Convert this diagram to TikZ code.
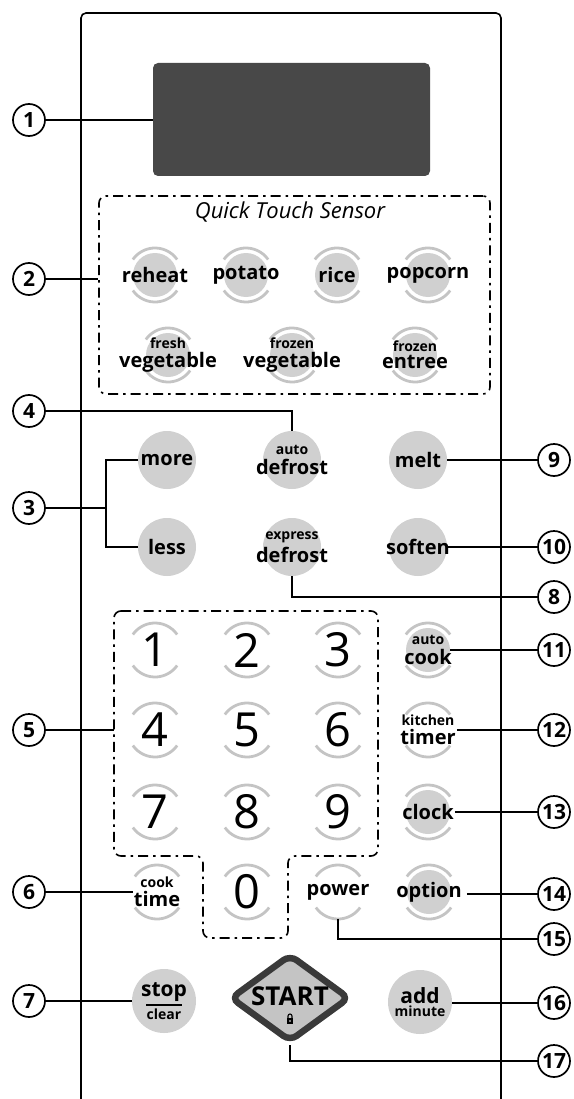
\documentclass[tikz,border=0pt]{standalone}
\usepackage{fontspec}
\setmainfont{Open Sans}
\usetikzlibrary{shapes.geometric}
\definecolor{keygray}{RGB}{208,208,208}
\definecolor{ringgray}{RGB}{196,196,196}
\definecolor{lcdgray}{RGB}{72,72,72}
\definecolor{startrim}{RGB}{58,58,58}
\definecolor{startgray}{RGB}{196,196,196}
\newcommand\keyfont{\bfseries\fontsize{20}{20}\selectfont}
\newcommand\subfont{\bfseries\fontsize{14}{14}\selectfont}
\newcommand\twoline[2]{\shortstack{{\subfont #1}\\[1pt]#2}}
\tikzset{
  x=1pt, y=-1pt,
  callout/.style={circle,draw,line width=1.7pt,minimum size=32pt,inner sep=0pt,fill=white,
    font=\bfseries\fontsize{21}{21}\selectfont},
  lead/.style={line width=1.6pt},
  pad/.style={draw,line width=1.6pt,rounded corners=7pt,
    dash pattern=on 10pt off 5pt on 2.5pt off 5pt},
  smallkey/.style={circle,fill=keygray,minimum size=44pt,inner sep=0pt},
  bigkey/.style={circle,fill=keygray,minimum size=58pt,inner sep=0pt},
  roundkey/.style={circle,fill=keygray,minimum size=64pt,inner sep=0pt},
  bare/.style={circle,minimum size=54pt,inner sep=0pt},
  keytext/.style={inner sep=1pt,font=\keyfont},
  digit/.style={inner sep=0pt,font=\fontsize{47}{47}\selectfont},
  ring/.style={ringgray,line width=2.8pt},
}

\begin{document}
\begin{tikzpicture}
\useasboundingbox (0,0) rectangle (573,1099);
% the panel
\draw[line width=1.6pt,rounded corners=5pt] (81,1099) -- (81,13) -- (501,13) -- (501,1099);
\node[fill=lcdgray,rounded corners=5pt,minimum width=277pt,minimum height=113pt] (lcd) at (291.5,119.5) {};
\node[pad,minimum width=391pt,minimum height=198pt] (qts) at (294.5,295) {};
\node[font=\itshape\fontsize{22}{22}\selectfont] (qtstitle) at (290,212) {Quick Touch Sensor};
\coordinate (padnw) at (114,611);
\draw[pad] (padnw) -- (378,611) -- (378,856) -- (288,856) -- (288,938)
  -- (203,938) -- (203,856) -- (114,856) -- cycle;
% the keys
\foreach \k/\x/\y in {reheat/155/275,potato/246/275,rice/337/275,popcorn/428/275,
  freshveg/168/355,frozenveg/292/355,entree/415/355,
  autocook/428/650,clock/428/812,option/429/892}
  \node[smallkey] (\k) at (\x,\y) {};
\foreach \k/\x/\y in {more/167/460,less/167/547,autodef/292/460,
  expressdef/292/547,melt/418/460,soften/418/547}
  \node[bigkey] (\k) at (\x,\y) {};
\foreach \k/\x/\y in {stopclear/164/1001,addmin/420/1002}
  \node[roundkey] (\k) at (\x,\y) {};
\foreach \k/\x/\y in {timer/428/730,cooktime/157/892,power/338/892}
  \node[bare] (\k) at (\x,\y) {};
\foreach \d/\x/\y in {1/155/650,2/247/650,3/338/650,4/155/730,5/247/730,6/338/730,
  7/155/812,8/247/812,9/338/812,0/247/892}
  \node[bare] (d\d) at (\x,\y) {};
% the rings
\foreach \k in {reheat,potato,rice,popcorn,freshveg,frozenveg,entree,autocook,timer,
  clock,option,cooktime,power,d1,d2,d3,d4,d5,d6,d7,d8,d9,d0}
{
  \draw[ring] ([shift={(35:27pt)}]\k.center) arc[start angle=35,end angle=145,radius=27pt];
  \draw[ring] ([shift={(215:27pt)}]\k.center) arc[start angle=215,end angle=325,radius=27pt];
}
% the key texts
\foreach \k/\t in {reheat/reheat,potato/potato,rice/rice,popcorn/popcorn,
  freshveg/{\twoline{fresh}{vegetable}},frozenveg/{\twoline{frozen}{vegetable}},
  entree/{\twoline{frozen}{entree}},more/more,less/less,
  autodef/{\twoline{auto}{defrost}},expressdef/{\twoline{express}{defrost}},
  melt/melt,soften/soften,autocook/{\twoline{auto}{cook}},
  timer/{\twoline{kitchen}{timer}},clock/clock,option/option,
  cooktime/{\twoline{cook}{time}},power/power}
  \node[keytext] (\k-txt) at (\k) {\t};
\foreach \d in {1,2,3,4,5,6,7,8,9,0}
  \node[digit] (d\d-txt) at (d\d) {\d};
\node[keytext,font=\bfseries\fontsize{21}{21}\selectfont] (stopclear-txt) at (stopclear)
  {\shortstack{stop\\\rule{36pt}{1.4pt}\\[0pt]{\subfont clear}}};
\node[keytext,font=\bfseries\fontsize{21}{21}\selectfont] (addmin-txt) at (addmin)
  {\shortstack{add\\[0pt]{\subfont minute}}};
% the start key
\node[diamond,minimum width=120pt,minimum height=88pt,inner sep=0pt,
  fill=startgray,draw=startrim,line width=6.5pt,rounded corners=8pt] (start) at (290,998) {};
\node[font=\bfseries\fontsize{26}{26}\selectfont,inner sep=0pt] (start-txt) at (290,996) {START};
\fill (287,1018) rectangle (293,1024);
\draw[line width=1.1pt] (288,1018.5) -- (288,1016) arc[start angle=180,end angle=0,radius=2pt] -- (292,1018.5);
\fill[white] (290,1021) circle[radius=0.9pt];
% the callouts
\foreach \n/\y in {1/120,2/279,3/508,4/411,5/730,6/892,7/1001}
  \node[callout] (c\n) at (29,\y) {\n};
\foreach \n/\y in {8/597,9/460,10/547,11/650,12/730,13/812,14/894,15/939,16/1003,17/1061}
  \node[callout] (c\n) at (554,\y) {\n};
% the leader lines
\coordinate (fork3) at (106,508);
\draw[lead] (c1) -- (c1 -| lcd.west);
\draw[lead] (c2) -- (c2 -| qts.west);
\draw[lead] (c3) -- (fork3);
\draw[lead] (more.west) -| (fork3) |- (less.west);
\draw[lead] (c4) -| (autodef.north);
\draw[lead] (c5) -- (c5 -| padnw);
\draw[lead] (c6) -- (c6 -| cooktime-txt.west);
\draw[lead] (c7) -- (c7 -| stopclear.west);
\draw[lead] (expressdef.south) |- (c8);
\draw[lead] (melt) -- (c9);
\draw[lead] (soften) -- (c10);
\draw[lead] (autocook) -- (c11);
\draw[lead] (timer-txt.east |- c12) -- (c12);
\draw[lead] (clock-txt.east |- c13) -- (c13);
\draw[lead,shorten <=4pt] (option-txt.east |- c14) -- (c14);
\draw[lead] (power.south) |- (c15);
\draw[lead] (addmin.east |- c16) -- (c16);
\draw[lead] (start.south) |- (c17);
\end{tikzpicture}
\end{document}
